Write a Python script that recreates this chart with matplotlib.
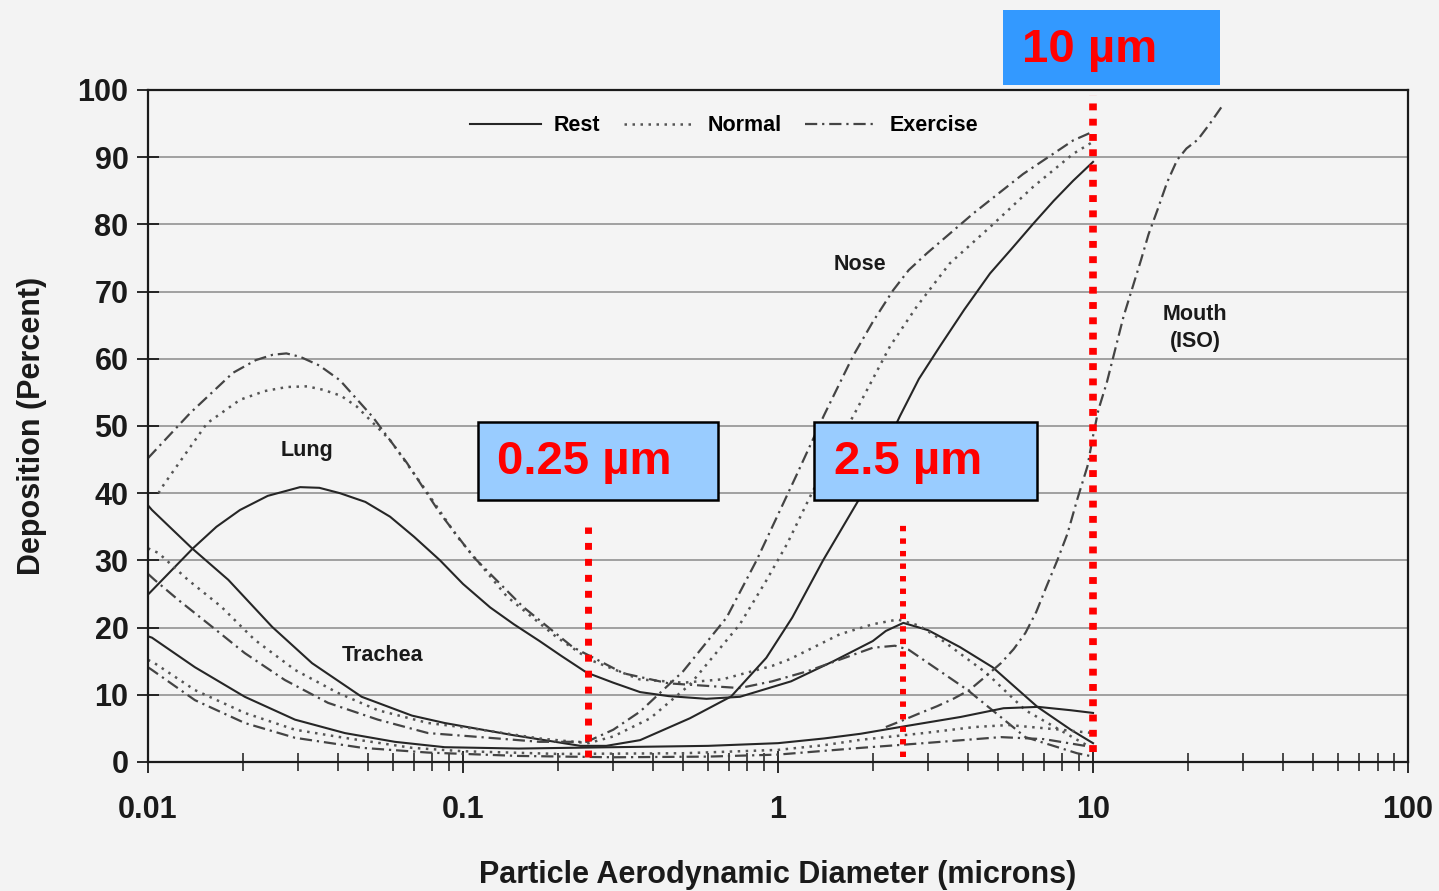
import matplotlib
matplotlib.use("Agg")
import matplotlib.pyplot as plt
from matplotlib.patches import Rectangle
from matplotlib.lines import Line2D

plt.rcParams['font.family'] = ['Liberation Sans', 'DejaVu Sans']

# particle size in microns, deposition in percent
nose_rest_x = [0.01, 0.0103, 0.0138, 0.018, 0.0248, 0.0332, 0.0477, 0.0689, 0.0875, 0.144, 0.236,
               0.285, 0.365, 0.525, 0.71, 0.918, 1.11, 1.39, 1.83, 2.0, 2.44, 2.8, 3.27, 3.9, 4.71,
               5.5, 6.46, 7.5, 8.65, 10]
nose_rest_y = [38.2, 37.5, 31.8, 27.1, 20.1, 14.7, 9.7, 6.9, 5.8, 4.0, 2.4,
               2.4, 3.25, 6.5, 9.75, 15.5, 21.5, 30, 39.5, 43, 51.5, 57, 61.9, 67.3, 72.7,
               76.3, 80.1, 83.5, 86.5, 89.3]

nose_normal_x = [0.01, 0.0108, 0.0134, 0.0171, 0.0218, 0.0293, 0.04, 0.0537, 0.0775, 0.107, 0.175, 0.25,
                 0.3, 0.393, 0.525, 0.757, 0.918, 1.07, 1.28, 1.78, 2.27, 2.76, 3.51, 4.71, 6.46, 8.65, 10]
nose_normal_y = [31.8, 31.1, 27.1, 23.1, 18.2, 13.7, 10.3, 7.7, 5.8, 5.0, 3.5, 2.8,
                 3.8, 6.5, 11.5, 20.5, 27, 32.5, 40, 52.5, 61.9, 67.8, 74.2, 79.6, 85.6, 90.5, 92.3]

nose_exercise_x = [0.01, 0.0105, 0.0125, 0.016, 0.0203, 0.0272, 0.0373, 0.0537, 0.0775, 0.107, 0.175, 0.247,
                   0.3, 0.365, 0.5, 0.687, 0.855, 1.14, 1.4, 1.73, 2.0, 2.32, 2.6, 2.97, 4.16, 6.0, 8.65, 10]
nose_exercise_y = [28, 27.1, 24.1, 20.1, 16.2, 12.2, 8.8, 6.3, 4.3, 3.8, 3.0, 3.0,
                   4.8, 7.5, 13.5, 21.5, 30, 42.5, 51.6, 60.4, 65.5, 70.2, 73.2, 75.7, 81.6, 87.5, 92.5, 93.8]

trachea_rest_x = [0.01, 0.0103, 0.0141, 0.0203, 0.0293, 0.0422, 0.0608, 0.0875, 0.15, 0.3, 0.6,
                  1.0, 1.4, 1.83, 2.44, 3.8, 5.2, 6.7, 8.5, 10]
trachea_rest_y = [18.7, 18.5, 14.1, 9.7, 6.3, 4.3, 3.0, 2.2, 2.0, 2.2, 2.4,
                  2.8, 3.5, 4.2, 5.2, 6.7, 8.0, 8.2, 7.7, 7.3]

trachea_normal_x = [0.01, 0.0105, 0.0141, 0.0203, 0.0293, 0.042, 0.069, 0.1, 0.2, 0.5,
                    1.0, 1.4, 1.83, 2.9, 4.2, 5.4, 7.9, 10]
trachea_normal_y = [15.2, 14.7, 10.7, 7.3, 4.8, 3.6, 2.1, 1.6, 1.2, 1.3,
                    1.8, 2.5, 3.3, 4.3, 5.2, 5.5, 4.8, 4.3]

trachea_exercise_x = [0.01, 0.0103, 0.0141, 0.0203, 0.0293, 0.048, 0.0775, 0.15, 0.3, 0.6,
                      1.0, 1.83, 2.9, 5.1, 7.0, 10]
trachea_exercise_y = [14.1, 13.7, 9.2, 5.8, 3.6, 2.1, 1.4, 0.9, 0.7, 0.8,
                      1.1, 2.1, 2.8, 3.7, 3.4, 2.2]

lung_rest_x = [0.01, 0.0139, 0.0165, 0.0196, 0.024, 0.0304, 0.035, 0.0407, 0.049, 0.0587, 0.07, 0.0846,
               0.1, 0.122, 0.145, 0.175, 0.205, 0.247, 0.3, 0.365, 0.45, 0.593, 0.757, 1.1, 1.5, 2.0,
               2.2, 2.5, 3.0, 3.78, 4.8, 6.66, 8.5, 10]
lung_rest_y = [24.9, 31.8, 35.0, 37.5, 39.6, 40.9, 40.8, 40.0, 38.7, 36.5, 33.5, 30.0,
               26.5, 23.0, 20.5, 18.0, 15.8, 13.3, 11.8, 10.4, 9.8, 9.4, 9.7, 12.0, 15.0, 18.0,
               19.5, 20.7, 19.6, 17.1, 14.1, 8.2, 4.8, 2.8]

lung_normal_x = [0.0108, 0.0112, 0.0154, 0.0196, 0.0235, 0.0276, 0.032, 0.0359, 0.041, 0.046, 0.0587,
                 0.075, 0.096, 0.138, 0.198, 0.253, 0.363, 0.5, 0.666, 0.958, 1.09, 1.57, 2.0, 2.4,
                 2.8, 3.3, 4.6, 6.1, 8.9, 10]
lung_normal_y = [40.0, 41.2, 50.4, 53.9, 55.2, 55.8, 55.9, 55.4, 54.5, 52.9, 47.9,
                 40.9, 33.5, 24.6, 18.6, 15.2, 12.3, 11.8, 12.3, 14.3, 15.3, 19.0, 20.5, 21.2,
                 20.3, 18.2, 13.2, 7.7, 3.3, 2.0]

lung_exercise_x = [0.01, 0.0136, 0.0186, 0.022, 0.0249, 0.0275, 0.0304, 0.035, 0.0407, 0.0518, 0.0664,
                   0.0846, 0.108, 0.155, 0.223, 0.323, 0.45, 0.757, 0.958, 1.24, 2.0, 2.35, 2.6, 4.0,
                   6.1, 8.9, 10]
lung_exercise_y = [45.2, 51.9, 57.9, 59.8, 60.6, 60.8, 60.3, 59.0, 56.8, 51.3, 44.5,
                   37.0, 30.5, 23.1, 17.1, 13.2, 11.7, 11.0, 12.0, 13.5, 17.0, 17.3, 16.7, 10.7,
                   3.7, 1.3, 0.8]

mouth_x = [2.2, 2.49, 2.8, 3.2, 3.6, 4.05, 4.5, 5.1, 5.6, 6.1, 6.6, 7.1, 7.7, 8.3, 8.9, 9.6, 10.0,
           10.4, 11.05, 12.5, 14.2, 15.0, 16.0, 17.2, 18.5, 19.8, 21.5, 23.5, 25.6]
mouth_y = [5.2, 6.2, 7.2, 8.3, 9.4, 10.7, 12.5, 14.7, 16.8, 19.2, 22.3, 26, 30, 34, 39, 44, 48.5,
           52.4, 56.4, 66.3, 74.7, 78.5, 82.1, 86.3, 89.6, 91.3, 92.6, 95.0, 97.5]

marker_sizes = [0.25, 2.5, 10]
marker_labels = ['0.25 µm', '2.5 µm', '10 µm']

x_ticks = [0.01, 0.1, 1, 10, 100]
x_tick_labels = ['0.01', '0.1', '1', '10', '100']
y_ticks = list(range(0, 101, 10))

solid = '-'
dotted = (0, (1.0, 2.2))
dashdot = (0, (5.5, 2.2, 1.0, 2.2))

fig = plt.figure(figsize=(14.39, 8.91), dpi=100, facecolor='#f3f3f3')
ax = fig.add_axes([0.1028, 0.1448, 0.8757, 0.7542])
ax.set_facecolor('#f4f4f4')

ax.plot(lung_rest_x, lung_rest_y, color='#262626', lw=1.5, ls=solid)
ax.plot(lung_normal_x, lung_normal_y, color='#555555', lw=1.8, ls=dotted)
ax.plot(lung_exercise_x, lung_exercise_y, color='#444444', lw=1.6, ls=dashdot)
ax.plot(nose_rest_x, nose_rest_y, color='#262626', lw=1.5, ls=solid)
ax.plot(nose_normal_x, nose_normal_y, color='#555555', lw=1.8, ls=dotted)
ax.plot(nose_exercise_x, nose_exercise_y, color='#444444', lw=1.6, ls=dashdot)
ax.plot(trachea_rest_x, trachea_rest_y, color='#262626', lw=1.5, ls=solid)
ax.plot(trachea_normal_x, trachea_normal_y, color='#555555', lw=1.8, ls=dotted)
ax.plot(trachea_exercise_x, trachea_exercise_y, color='#444444', lw=1.6, ls=dashdot)
ax.plot(mouth_x, mouth_y, color='#444444', lw=1.6, ls=dashdot)

ax.set_xscale('log')
ax.set_xlim(0.01, 100)
ax.set_ylim(0, 100)
ax.set_xticks(x_ticks)
ax.set_xticklabels(x_tick_labels)
ax.set_yticks(y_ticks)
ax.yaxis.grid(True, color='#9a9a9a', lw=1.3)
ax.set_axisbelow(True)

ax.tick_params(axis='x', which='major', direction='inout', length=16, width=1.3,
               labelsize=22, pad=16, colors='#1a1a1a')
ax.tick_params(axis='x', which='minor', direction='inout', length=13, width=1.1, colors='#1a1a1a')
ax.tick_params(axis='y', direction='inout', length=16, width=1.3, labelsize=22, pad=6, colors='#1a1a1a')
for lab in ax.get_xticklabels() + ax.get_yticklabels():
    lab.set_fontweight('bold')
for sp in ax.spines.values():
    sp.set_linewidth(1.6)
    sp.set_color('#1a1a1a')

ax.set_xlabel('Particle Aerodynamic Diameter (microns)', fontsize=22, fontweight='bold',
              color='#1a1a1a', labelpad=25)
ax.set_ylabel('Deposition (Percent)', fontsize=22, fontweight='bold', color='#1a1a1a', labelpad=22)

handles = [Line2D([], [], color='#262626', lw=1.5, ls=solid),
           Line2D([], [], color='#555555', lw=1.8, ls=dotted),
           Line2D([], [], color='#444444', lw=1.6, ls=dashdot)]
leg = ax.legend(handles, ['Rest', 'Normal', 'Exercise'], loc='center', bbox_to_anchor=(0.457, 0.947),
                ncol=3, frameon=False, handlelength=3.3, handletextpad=0.6, columnspacing=1.1,
                prop={'size': 15.5, 'weight': 'bold'})

ax.text(0.032, 46.4, 'Lung', fontsize=15.5, fontweight='bold', ha='center', va='center', color='#1a1a1a')
ax.text(0.0557, 15.9, 'Trachea', fontsize=15.5, fontweight='bold', ha='center', va='center', color='#1a1a1a')
ax.text(1.82, 74.1, 'Nose', fontsize=15.5, fontweight='bold', ha='center', va='center', color='#1a1a1a')
ax.text(21.1, 64.6, 'Mouth\n(ISO)', fontsize=15.5, fontweight='bold', ha='center', va='center',
        color='#1a1a1a', linespacing=1.35)

# red markers for the PM cut sizes
ax.plot([marker_sizes[0]] * 2, [0.7, 35], color='red', lw=5, ls=(0, (1.0, 1.3)),
        dash_capstyle='butt', zorder=5)
ax.plot([marker_sizes[1]] * 2, [0.7, 35.3], color='red', lw=4.3, ls=(0, (0.9, 1.2)), dash_capstyle='butt',
        zorder=5)
ax.plot([marker_sizes[2]] * 2, [1.5, 99.3], color='red', lw=5.5, ls=(0, (0.9, 1.1)), dash_capstyle='butt',
        zorder=5)

# label boxes (figure fraction)
boxes = [(0.3322, 0.4388, 0.1668, 0.0875, '#99ccff', 1.8, 0.3454, 0.4815),
         (0.5657, 0.4388, 0.1550, 0.0875, '#99ccff', 1.8, 0.5796, 0.4815),
         (0.6970, 0.9046, 0.1508, 0.0842, '#3399ff', 0.0, 0.7102, 0.9440)]
for (bx, by, bw, bh, fc, elw, tx, ty), lab in zip(boxes, marker_labels):
    fig.add_artist(Rectangle((bx, by), bw, bh, transform=fig.transFigure, facecolor=fc,
                             edgecolor='black', lw=elw, zorder=10))
    fig.text(tx, ty, lab, fontsize=34, fontweight='bold', color='#ff0000', ha='left', va='center', zorder=11)

fig.savefig('out.png', dpi=100, facecolor=fig.get_facecolor())
